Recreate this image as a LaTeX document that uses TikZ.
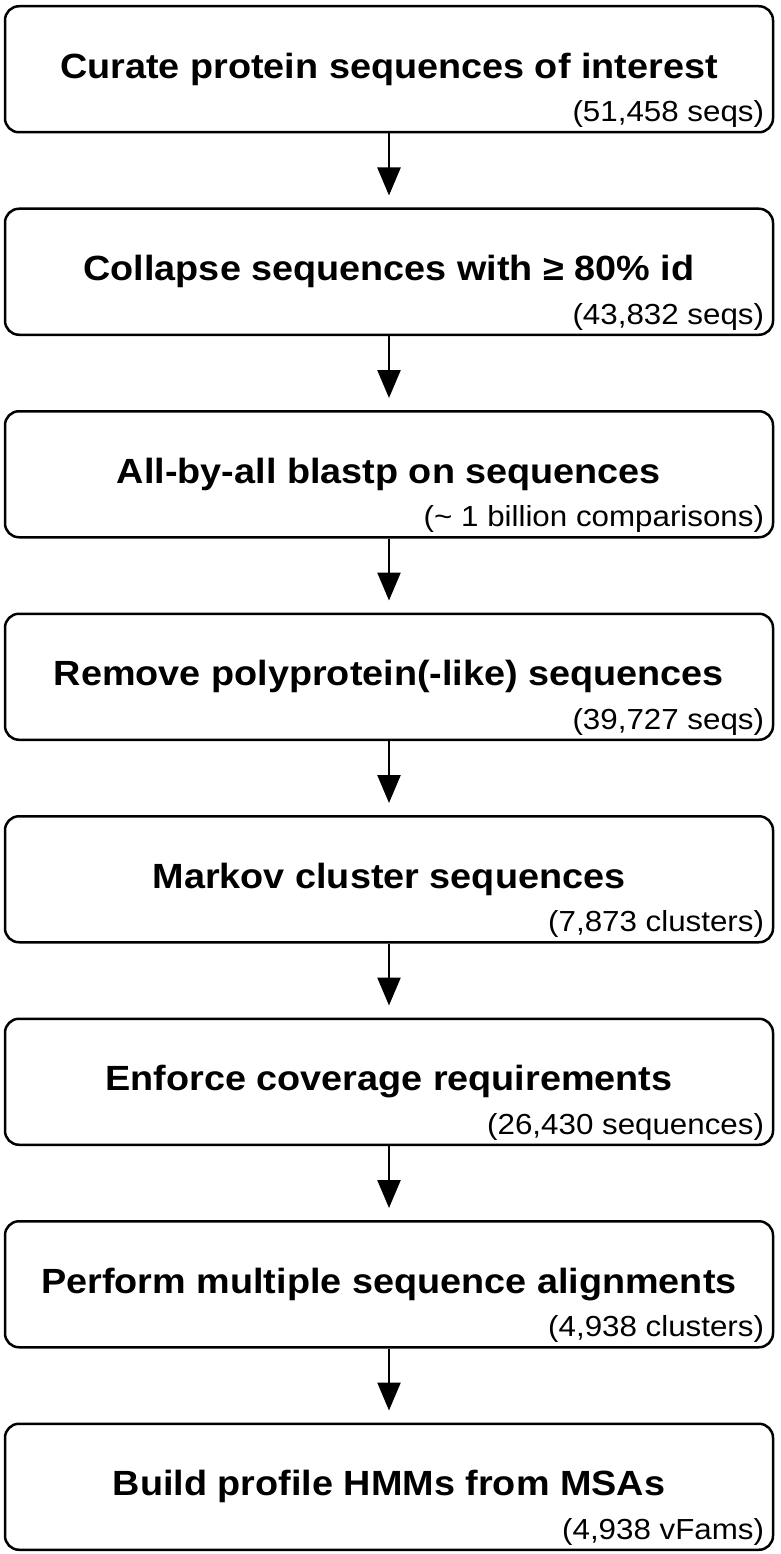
\documentclass[tikz,border=0pt]{standalone}
\usepackage{fontspec}
\setmainfont{Liberation Sans}[FakeStretch=1.08]
\usetikzlibrary{positioning,arrows.meta}
\tikzset{
	stepbox/.style={rectangle, rounded corners=14pt, draw=black, line width=2.5pt, minimum width=768pt, minimum height=126pt, text height=25pt, text depth=7pt, font=\fontsize{35}{40}\selectfont\bfseries},
	countlabel/.style={anchor=base east, inner sep=0pt, font=\fontsize{29}{33}\selectfont},
	flow/.style={-{Triangle[length=28pt,width=23pt]}, line width=2.5pt, shorten >=12pt}
}
\begin{document}
\begin{tikzpicture}[node distance=74pt]
	\useasboundingbox (0pt,0pt) rectangle (780pt,-1554pt);
	\node[stepbox, anchor=north](curate) at (389pt,-5pt){Curate protein sequences of interest};
	\node[stepbox, below=of curate](collapse){Collapse sequences with ≥ 80\% id};
	\node[stepbox, below=of collapse](blastp){All-by-all blastp on sequences};
	\node[stepbox, below=of blastp](polyprot){Remove polyprotein(-like) sequences};
	\node[stepbox, below=of polyprot](markov){Markov cluster sequences};
	\node[stepbox, below=of markov](coverage){Enforce coverage requirements};
	\node[stepbox, below=of coverage](msa){Perform multiple sequence alignments};
	\node[stepbox, below=of msa](hmm){Build profile HMMs from MSAs};
	\node[countlabel](curateN) at ([xshift=-10pt, yshift=12pt]curate.south east){(51,458 seqs)};
	\node[countlabel](collapseN) at ([xshift=-10pt, yshift=12pt]collapse.south east){(43,832 seqs)};
	\node[countlabel](blastpN) at ([xshift=-10pt, yshift=12pt]blastp.south east){(\textasciitilde\ 1 billion comparisons)};
	\node[countlabel](polyprotN) at ([xshift=-10pt, yshift=12pt]polyprot.south east){(39,727 seqs)};
	\node[countlabel](markovN) at ([xshift=-10pt, yshift=12pt]markov.south east){(7,873 clusters)};
	\node[countlabel](coverageN) at ([xshift=-10pt, yshift=12pt]coverage.south east){(26,430 sequences)};
	\node[countlabel](msaN) at ([xshift=-10pt, yshift=12pt]msa.south east){(4,938 clusters)};
	\node[countlabel](hmmN) at ([xshift=-10pt, yshift=12pt]hmm.south east){(4,938 vFams)};
	\draw[flow](curate) -- (collapse);
	\draw[flow](collapse) -- (blastp);
	\draw[flow](blastp) -- (polyprot);
	\draw[flow](polyprot) -- (markov);
	\draw[flow](markov) -- (coverage);
	\draw[flow](coverage) -- (msa);
	\draw[flow](msa) -- (hmm);
\end{tikzpicture}
\end{document}
